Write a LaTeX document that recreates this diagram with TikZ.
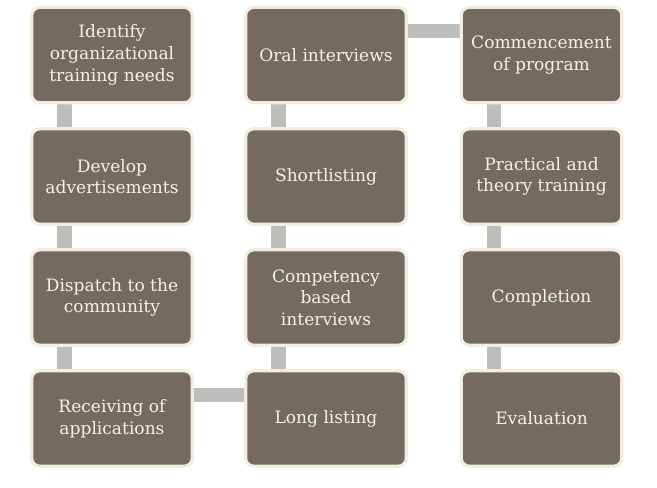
\documentclass[tikz,border=0pt]{standalone}
\usepackage{fontspec}
\setmainfont{DejaVu Serif}
\usepackage{tikz}
\usetikzlibrary{backgrounds}
\definecolor{taupe}{HTML}{756A60}
\definecolor{cream}{HTML}{F1EEDF}
\definecolor{barg}{HTML}{BDBDBB}
\definecolor{txt}{HTML}{F5F2EA}

\begin{document}
\begin{tikzpicture}[x=0.75pt, y=-0.75pt,
  box/.style={draw=cream, fill=taupe, line width=2.4pt, rectangle, rounded corners=6pt,
              minimum width=120.5pt, minimum height=71.5pt, align=center, text=txt,
              font=\fontsize{12.8}{16.2}\selectfont},
  bar/.style={draw=barg, line width=11pt}
]
\useasboundingbox (0,0) rectangle (657,487);

\node[box] (needs)   at (112,55)    {Identify\\organizational\\training needs};
\node[box] (advert)  at (112,176.5) {Develop\\advertisements};
\node[box] (dispatch) at (112,297.5) {Dispatch to the\\community};
\node[box] (receive) at (112,418.5) {Receiving of\\applications};

\node[box] (oral)    at (326,55)    {Oral interviews};
\node[box] (short)   at (326,176.5) {Shortlisting};
\node[box] (compet)  at (326,297.5) {Competency\\based\\interviews};
\node[box] (long)    at (326,418.5) {Long listing};

\node[box] (start)   at (541.5,55)    {Commencement\\of program};
\node[box] (train)   at (541.5,176.5) {Practical and\\theory training};
\node[box] (done)    at (541.5,297.5) {Completion};
\node[box] (eval)    at (541.5,418.5) {Evaluation};

\begin{pgfonlayer}{background}
\draw[bar] ([xshift=-47.5*0.75pt]needs.south) -- ([xshift=-47.5*0.75pt]advert.north);
\draw[bar] ([xshift=-47.5*0.75pt]advert.south) -- ([xshift=-47.5*0.75pt]dispatch.north);
\draw[bar] ([xshift=-47.5*0.75pt]dispatch.south) -- ([xshift=-47.5*0.75pt]receive.north);
\draw[bar] ([yshift=17.6pt]receive.east) -- ([yshift=17.6pt]long.west);
\draw[bar] ([xshift=-47.5*0.75pt]long.north) -- ([xshift=-47.5*0.75pt]compet.south);
\draw[bar] ([xshift=-47.5*0.75pt]compet.north) -- ([xshift=-47.5*0.75pt]short.south);
\draw[bar] ([xshift=-47.5*0.75pt]short.north) -- ([xshift=-47.5*0.75pt]oral.south);
\draw[bar] ([yshift=18pt]oral.east) -- ([yshift=18pt]start.west);
\draw[bar] ([xshift=-47.5*0.75pt]start.south) -- ([xshift=-47.5*0.75pt]train.north);
\draw[bar] ([xshift=-47.5*0.75pt]train.south) -- ([xshift=-47.5*0.75pt]done.north);
\draw[bar] ([xshift=-47.5*0.75pt]done.south) -- ([xshift=-47.5*0.75pt]eval.north);
\end{pgfonlayer}
\end{tikzpicture}
\end{document}
